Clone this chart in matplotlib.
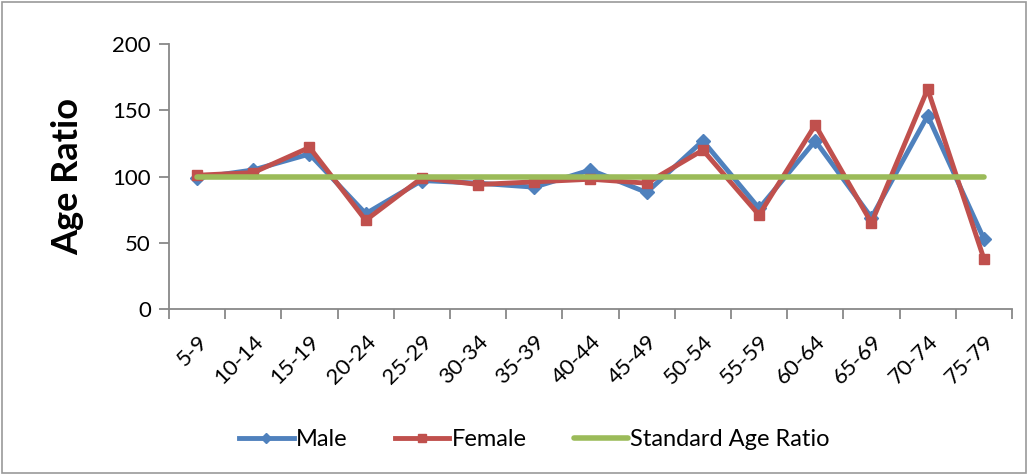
#!/usr/bin/env python3
"""Age ratio by age group: male, female and the standard ratio line."""

import matplotlib
matplotlib.use("Agg")
import matplotlib.pyplot as plt
from matplotlib.patches import Rectangle
import numpy as np

age_groups = ["5-9", "10-14", "15-19", "20-24", "25-29", "30-34", "35-39",
              "40-44", "45-49", "50-54", "55-59", "60-64", "65-69", "70-74", "75-79"]
male = [99, 105, 117, 72, 97, 95, 92, 105, 88, 127, 76, 127, 69, 146, 53]
female = [101, 103, 122, 67, 99, 94, 96, 98, 95, 120, 71, 139, 65, 166, 38]
standard = [100] * len(age_groups)

plt.rcParams["font.family"] = ["Lato", "DejaVu Sans"]

fig = plt.figure(figsize=(10.28, 4.74), dpi=100)
ax = fig.add_axes([0.1644, 0.348, 0.82, 0.559])

x = np.arange(len(age_groups))
ax.plot(x, male, color="#4F81BD", lw=3.5, marker="D", ms=7, label="Male")
ax.plot(x, female, color="#C0504D", lw=3.5, marker="s", ms=7, label="Female")
ax.plot(x, standard, color="#9BBB59", lw=4, solid_capstyle="round",
        label="Standard Age Ratio")

ax.set_xlim(-0.5, len(age_groups) - 0.5)
ax.set_ylim(0, 200)
ax.set_yticks([0, 50, 100, 150, 200])
ax.set_xticks(x)
ax.set_xticklabels(age_groups, rotation=45, ha="right", rotation_mode="anchor")
ax.set_xticks(np.arange(-0.5, len(age_groups)), minor=True)
ax.tick_params(axis="x", which="major", length=0, pad=16, labelsize=16)
ax.tick_params(axis="x", which="minor", length=7, color="#888888", width=1.3)
ax.tick_params(axis="y", length=7, color="#888888", width=1.3, labelsize=16, pad=6)

for side in ("top", "right"):
    ax.spines[side].set_visible(False)
for side in ("left", "bottom"):
    ax.spines[side].set_color("#888888")
    ax.spines[side].set_linewidth(1.3)

ax.set_ylabel("Age Ratio", fontsize=26, fontweight="bold", labelpad=20)

ax.legend(loc="center", bbox_to_anchor=(0.52, 0.072), bbox_transform=fig.transFigure,
          ncol=3, frameon=False, fontsize=17, handlelength=2.3, markerscale=0.8,
          columnspacing=2.0, handletextpad=0.1)

fig.patches.append(Rectangle((0.002, 0.002), 0.996, 0.994, transform=fig.transFigure,
                             fill=False, edgecolor="#999999", lw=1.2))

fig.savefig("out.png", dpi=100)
